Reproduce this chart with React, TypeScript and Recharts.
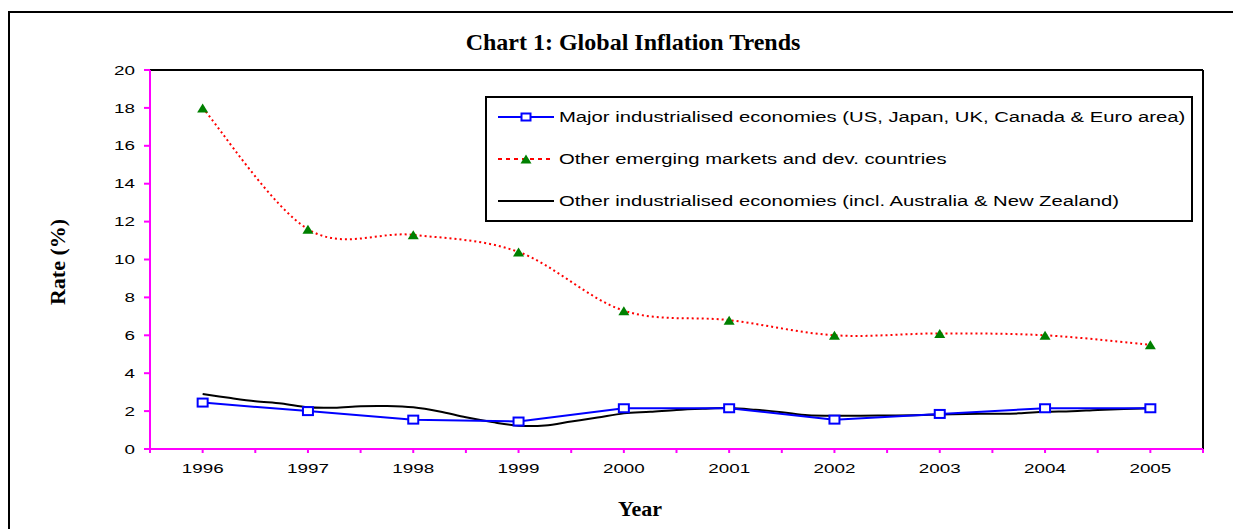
import { LineChart, Line, XAxis, YAxis, ReferenceLine } from "recharts";

const YEARS = [1996, 1997, 1998, 1999, 2000, 2001, 2002, 2003, 2004, 2005];
const MAJOR = [2.45, 2.0, 1.55, 1.45, 2.15, 2.15, 1.55, 1.85, 2.15, 2.15];
const EMERGING = [18.0, 11.6, 11.3, 10.4, 7.3, 6.8, 6.0, 6.1, 6.0, 5.5];

// quarterly readings for the "other industrialised" series
const OTHER_X = [
  1996, 1996.25, 1996.5, 1996.75, 1997, 1997.25, 1997.5, 1997.75,
  1998, 1998.25, 1998.5, 1998.75, 1999, 1999.25, 1999.5, 1999.75,
  2000, 2000.25, 2000.5, 2000.75, 2001, 2001.25, 2001.5, 2001.75,
  2002, 2002.25, 2002.5, 2002.75, 2003, 2003.25, 2003.5, 2003.75,
  2004, 2004.25, 2004.5, 2004.75, 2005,
];
const OTHER = [
  2.9, 2.7, 2.52, 2.4, 2.2, 2.18, 2.26, 2.27,
  2.2, 1.98, 1.67, 1.42, 1.23, 1.24, 1.45, 1.66,
  1.88, 1.96, 2.06, 2.12, 2.16, 2.07, 1.94, 1.78,
  1.76, 1.76, 1.77, 1.78, 1.82, 1.85, 1.86, 1.88,
  1.96, 1.99, 2.06, 2.11, 2.15,
];

const X_TICKS = [
  1995.5, 1996, 1996.5, 1997, 1997.5, 1998, 1998.5, 1999, 1999.5, 2000, 2000.5,
  2001, 2001.5, 2002, 2002.5, 2003, 2003.5, 2004, 2004.5, 2005, 2005.5,
];
const Y_TICKS = [0, 2, 4, 6, 8, 10, 12, 14, 16, 18, 20];

const LEGEND = [
  "Major industrialised economies (US, Japan, UK, Canada & Euro area)",
  "Other emerging markets and dev. countries",
  "Other industrialised economies (incl. Australia & New Zealand)",
];

const majorData = YEARS.map((x, i) => ({ x, y: MAJOR[i] }));
const emergingData = YEARS.map((x, i) => ({ x, y: EMERGING[i] }));
const otherData = OTHER_X.map((x, i) => ({ x, y: OTHER[i] }));

const MAGENTA = "#FF00FF";
const SANS = "'Liberation Sans', Arial, sans-serif";
const SERIF = "'Liberation Serif', 'Times New Roman', serif";
const STRETCH = 1.45;

// Excel-style smoothed line (catmull-rom like bezier)
function excelCurve(context: any) {
  let pts: number[][] = [];
  return {
    areaStart() {},
    areaEnd() {},
    lineStart() { pts = []; },
    point(x: number, y: number) { pts.push([+x, +y]); },
    lineEnd() {
      if (!pts.length) return;
      context.moveTo(pts[0][0], pts[0][1]);
      for (let i = 0; i < pts.length - 1; i++) {
        const p0 = pts[Math.max(i - 1, 0)];
        const p1 = pts[i];
        const p2 = pts[i + 1];
        const p3 = pts[Math.min(i + 2, pts.length - 1)];
        context.bezierCurveTo(
          p1[0] + (p2[0] - p0[0]) / 6, p1[1] + (p2[1] - p0[1]) / 6,
          p2[0] - (p3[0] - p1[0]) / 6, p2[1] - (p3[1] - p1[1]) / 6,
          p2[0], p2[1],
        );
      }
    },
  };
}

const XTick = (props: any) => {
  const { x, y, payload } = props;
  if (!Number.isInteger(payload.value)) return <g />;
  return (
    <text transform={`translate(${x},${y + 9.5}) scale(${STRETCH},1)`} textAnchor="middle"
      fontFamily={SANS} fontSize={13} fill="#000">{payload.value}</text>
  );
};

const YTick = (props: any) => {
  const { x, y, payload } = props;
  return (
    <text transform={`translate(${x},${y + 4.6}) scale(${STRETCH},1)`} textAnchor="end"
      fontFamily={SANS} fontSize={13} fill="#000">{payload.value}</text>
  );
};

const SquareDot = (props: any) => {
  const { cx, cy, index } = props;
  return <rect key={`sq-${index}`} x={cx - 5} y={cy - 4} width={10} height={8}
    fill="#fff" stroke="#0000FF" strokeWidth={2} />;
};

const TriangleDot = (props: any) => {
  const { cx, cy, index } = props;
  return <path key={`tr-${index}`} d={`M${cx - 5.5},${cy + 4.5} L${cx + 5.5},${cy + 4.5} L${cx},${cy - 4.5} Z`}
    fill="#008000" />;
};

function LegendSample({ kind }: { kind: number }) {
  return (
    <svg width={56} height={12} style={{ display: "block" }}>
      {kind === 0 && (
        <>
          <line x1={0} y1={6} x2={56} y2={6} stroke="#0000FF" strokeWidth={2} />
          <rect x={23.5} y={2.5} width={9} height={7} fill="#fff" stroke="#0000FF" strokeWidth={2} />
        </>
      )}
      {kind === 1 && (
        <>
          <line x1={0} y1={6} x2={56} y2={6} stroke="#FF0000" strokeWidth={2} strokeDasharray="4 4" />
          <path d="M22.5,10.5 L33.5,10.5 L28,1.5 Z" fill="#008000" />
        </>
      )}
      {kind === 2 && <line x1={0} y1={6} x2={56} y2={6} stroke="#000" strokeWidth={2} />}
    </svg>
  );
}

export default function App() {
  return (
    <div style={{ position: "fixed", left: 0, top: 0, width: 1233, height: 529, overflow: "hidden", background: "#fff" }}>
      <div style={{ position: "absolute", left: 8, top: 11, width: 1400, height: 700,
        borderLeft: "2px solid #000", borderTop: "2px solid #000" }} />

      <div style={{ position: "absolute", left: 333, width: 600, top: 28, textAlign: "center",
        fontFamily: SERIF, fontWeight: 700, fontSize: 24, lineHeight: "28px", color: "#000" }}>
        Chart 1: Global Inflation Trends
      </div>

      <LineChart width={1233} height={529} data={majorData}
        margin={{ top: 70, right: 30, left: 90, bottom: 50 }}
        style={{ position: "absolute", left: 0, top: 0 }}>
        <XAxis dataKey="x" type="number" domain={[1995.5, 2005.5]} ticks={X_TICKS} interval={0}
          allowDataOverflow height={30} tickSize={4} tickMargin={10} tick={<XTick />}
          axisLine={{ stroke: MAGENTA, strokeWidth: 2 }} tickLine={{ stroke: MAGENTA, strokeWidth: 2 }} />
        <YAxis type="number" domain={[0, 20]} ticks={Y_TICKS} interval={0} width={60}
          tickSize={6} tickMargin={9} tick={<YTick />}
          axisLine={{ stroke: MAGENTA, strokeWidth: 2 }} tickLine={{ stroke: MAGENTA, strokeWidth: 2 }} />
        <ReferenceLine y={20} stroke="#000" strokeWidth={2} />
        <ReferenceLine x={2005.5} stroke="#000" strokeWidth={2} />

        <Line data={otherData} dataKey="y" type={excelCurve as any} stroke="#000" strokeWidth={2}
          dot={false} activeDot={false} isAnimationActive={false} />
        <Line data={emergingData} dataKey="y" type={excelCurve as any} stroke="#FF0000" strokeWidth={2}
          strokeDasharray="2 3" dot={<TriangleDot />} activeDot={false} isAnimationActive={false} />
        <Line data={majorData} dataKey="y" type="linear" stroke="#0000FF" strokeWidth={2}
          dot={<SquareDot />} activeDot={false} isAnimationActive={false} />
      </LineChart>

      <div style={{ position: "absolute", left: 485, top: 96, width: 704, height: 122,
        border: "2px solid #000", background: "#fff" }}>
        {LEGEND.map((label, i) => (
          <div key={label} style={{ position: "absolute", left: 11, top: 11 + i * 42, height: 16,
            display: "flex", alignItems: "center" }}>
            <LegendSample kind={i} />
            <span style={{ fontFamily: SANS, fontSize: 14, color: "#000", whiteSpace: "nowrap",
              marginLeft: 5, display: "inline-block", transform: "scaleX(1.445)", transformOrigin: "left center" }}>
              {label}
            </span>
          </div>
        ))}
      </div>

      <div style={{ position: "absolute", left: 540, width: 200, top: 496, textAlign: "center",
        fontFamily: SERIF, fontWeight: 700, fontSize: 22, lineHeight: "26px", color: "#000" }}>
        Year
      </div>
      <div style={{ position: "absolute", left: 58, top: 262, width: 0, height: 0 }}>
        <div style={{ position: "absolute", left: -100, top: -13, width: 200, textAlign: "center",
          transform: "rotate(-90deg)", fontFamily: SERIF, fontWeight: 700, fontSize: 22,
          lineHeight: "26px", color: "#000", whiteSpace: "nowrap" }}>
          Rate (%)
        </div>
      </div>
    </div>
  );
}
